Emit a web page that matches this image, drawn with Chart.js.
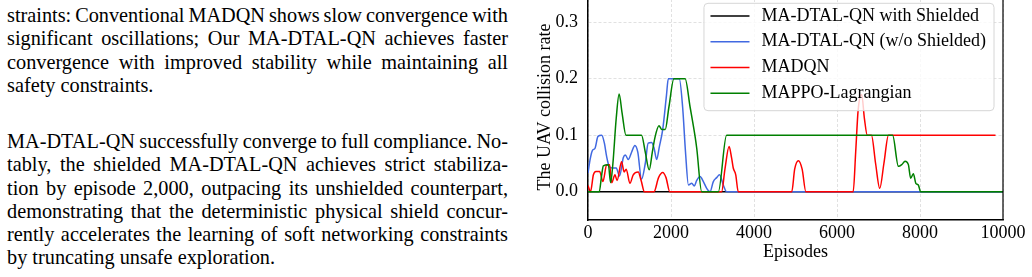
<!DOCTYPE html>
<html>
<head>
<meta charset="utf-8">
<script src="https://cdn.jsdelivr.net/npm/chart.js@4.4.0/dist/chart.umd.min.js"></script>
<style>
html, body { margin: 0; padding: 0; background: #fff; overflow: hidden; }
body { width: 1032px; height: 277px; position: relative; }
.para { position: absolute; left: 7px; width: 501px; font-family: "Liberation Serif", serif; font-size: 20.3px; line-height: 23.3px; color: #000; }
.para div { text-align: justify; text-align-last: justify; white-space: nowrap; }
.para div.last { text-align-last: left; }
#wrap { position: absolute; left: 520px; top: -6px; width: 512px; height: 283px; }
</style>
</head>
<body>
<div class="para" style="top:4px">
  <div>straints: Conventional MADQN shows slow convergence with</div>
  <div>significant oscillations; Our MA-DTAL-QN achieves faster</div>
  <div>convergence with improved stability while maintaining all</div>
  <div class="last">safety constraints.</div>
</div>
<div class="para" style="top:130px">
  <div>MA-DTAL-QN successfully converge to full compliance. No-</div>
  <div>tably, the shielded MA-DTAL-QN achieves strict stabiliza-</div>
  <div>tion by episode 2,000, outpacing its unshielded counterpart,</div>
  <div>demonstrating that the deterministic physical shield concur-</div>
  <div>rently accelerates the learning of soft networking constraints</div>
  <div class="last">by truncating unsafe exploration.</div>
</div>
<div id="wrap"><canvas id="myChart" width="512" height="283"></canvas></div>
<script>
// tick labels
const xTicks = [0, 2000, 4000, 6000, 8000, 10000];
const yTicks = [0.0, 0.1, 0.2, 0.3];

// series names
const seriesNames = ["MA-DTAL-QN with Shielded", "MA-DTAL-QN (w/o Shielded)", "MADQN", "MAPPO-Lagrangian"];

// MA-DTAL-QN with Shielded
const shieldedEp = [0, 10000];
const shieldedRate = [0, 0];

// MA-DTAL-QN (w/o Shielded)
const noShieldEp = [0, 50, 105, 170, 240, 330, 395, 450, 510, 580, 680, 760, 850, 900, 970, 1050, 1130, 1200, 1290, 1380, 1450, 1530, 1590, 1655, 1720, 1800, 1890, 1935, 2200, 2280, 2350, 2420, 2500, 2560, 2620, 2700, 2780, 2860, 2940, 3020, 3100, 3170, 3260, 3340, 10000];
const noShieldRate = [0.033, 0.057, 0.073, 0.077, 0.098, 0.1, 0.086, 0.062, 0.045, 0.042, 0.042, 0.028, 0.06, 0.065, 0.057, 0.07, 0.082, 0.07, 0.022, 0.05, 0.086, 0.087, 0.078, 0.057, 0.08, 0.11, 0.17, 0.2, 0.2, 0.15, 0.07, 0.012, 0.015, 0.01, 0.02, 0.027, 0.018, 0.006, 0, 0.018, 0.025, 0.03, 0.012, 0, 0];

// MADQN
const madqnEp = [0, 60, 130, 190, 280, 360, 450, 520, 570, 650, 700, 810, 870, 920, 1010, 1090, 1210, 1280, 1360, 1590, 1700, 1800, 1880, 1970, 3220, 3300, 3400, 3460, 3500, 3560, 3620, 4910, 4980, 5070, 5160, 5250, 6390, 6450, 6510, 6595, 6660, 6730, 6830, 6930, 7030, 7130, 7240, 7350, 9820];
const madqnRate = [0.011, 0, 0.03, 0.036, 0.036, 0.018, 0.048, 0.048, 0.016, 0.03, 0.02, 0.053, 0.035, 0.04, 0.015, 0.03, 0.035, 0.02, 0, 0, 0.025, 0.034, 0.025, 0, 0, 0.04, 0.08, 0.06, 0.042, 0.03, 0, 0, 0.04, 0.055, 0.04, 0, 0, 0.07, 0.145, 0.172, 0.13, 0.1, 0.1, 0.05, 0.006, 0.05, 0.1, 0.1, 0.1];

// MAPPO-Lagrangian
const mappoEp = [0, 270, 330, 370, 490, 545, 600, 680, 750, 820, 915, 1290, 1380, 1475, 1550, 1610, 1710, 1780, 1860, 1950, 2070, 2340, 2460, 2580, 2620, 2740, 3140, 3340, 7340, 7480, 7560, 7640, 7720, 7775, 7840, 7900, 7960, 8015, 10000];
const mappoRate = [0, 0, 0.03, 0.046, 0.048, 0.016, 0.05, 0.13, 0.173, 0.14, 0.1, 0.1, 0.07, 0.039, 0.07, 0.095, 0.117, 0.11, 0.11, 0.15, 0.2, 0.2, 0.15, 0.098, 0.077, 0, 0, 0.1, 0.1, 0.045, 0.048, 0.054, 0.048, 0.024, 0.032, 0.015, 0.012, 0, 0];

const seriesColors = ["#000000", "#4169e1", "#ff0000", "#008000"];

// squeeze word spacing on lines that are too long for the column
document.querySelectorAll(".para div").forEach(function (el) {
    var s = document.createElement("span");
    s.textContent = el.textContent;
    el.textContent = "";
    el.appendChild(s);
    var over = s.getBoundingClientRect().width - 501;
    var gaps = s.textContent.split(" ").length - 1;
    if (over > 0 && gaps > 0) el.style.wordSpacing = (-over / gaps) + "px";
});

function pts(xs, ys) {
    return xs.map((x, i) => ({ x: x, y: ys[i] }));
}

const serif = "'Liberation Serif', serif";

const boxLegend = {
    id: "boxLegend",
    afterDatasetsDraw(chart) {
        const ctx = chart.ctx, a = chart.chartArea;
        ctx.save();
        // right spine
        ctx.strokeStyle = "#000";
        ctx.lineWidth = 1.2;
        ctx.beginPath();
        ctx.moveTo(a.right, a.top);
        ctx.lineTo(a.right, a.bottom);
        ctx.stroke();
        // legend frame
        ctx.font = "18px " + serif;
        var maxW = 0;
        chart.data.datasets.forEach(function (d) { maxW = Math.max(maxW, ctx.measureText(d.label).width); });
        var w = 6.5 + 39 + 12 + maxW + 8, h = 107.4;
        var bx = a.right - 9 - w, by = a.top + 9.3;
        ctx.beginPath();
        ctx.roundRect(bx, by, w, h, 4);
        ctx.fillStyle = "rgba(255,255,255,0.8)";
        ctx.fill();
        ctx.strokeStyle = "#d6d6d6";
        ctx.lineWidth = 1;
        ctx.stroke();
        ctx.textBaseline = "middle";
        chart.data.datasets.forEach(function (d, i) {
            var yy = by + 12.7 + i * 25.75;
            ctx.strokeStyle = d.borderColor;
            ctx.lineWidth = 1.5;
            ctx.beginPath();
            ctx.moveTo(bx + 6.5, yy);
            ctx.lineTo(bx + 45.5, yy);
            ctx.stroke();
            ctx.fillStyle = "#000";
            ctx.fillText(d.label, bx + 57.5, yy);
        });
        ctx.restore();
    }
};

const data = {
    datasets: [
        { label: seriesNames[0], data: pts(shieldedEp, shieldedRate), borderColor: seriesColors[0], order: 4 },
        { label: seriesNames[1], data: pts(noShieldEp, noShieldRate), borderColor: seriesColors[1], order: 3 },
        { label: seriesNames[2], data: pts(madqnEp, madqnRate), borderColor: seriesColors[2], order: 2 },
        { label: seriesNames[3], data: pts(mappoEp, mappoRate), borderColor: seriesColors[3], order: 1 }
    ].map(function (d) {
        d.borderWidth = 1.5;
        d.pointRadius = 0;
        d.fill = false;
        d.cubicInterpolationMode = "monotone";
        return d;
    })
};

const gridOpts = { color: "rgba(170,170,170,0.45)", lineWidth: 0.8, drawTicks: false };

const config = {
    type: "line",
    data: data,
    options: {
        responsive: false,
        animation: false,
        layout: { padding: { left: 0, right: 29, top: 0, bottom: 0 } },
        plugins: { legend: { display: false }, tooltip: { enabled: false } },
        scales: {
            x: {
                type: "linear",
                min: 0,
                max: 10000,
                afterBuildTicks: function (s) { s.ticks = xTicks.map(function (v) { return { value: v }; }); },
                afterFit: function (s) { s.height = 57; s.paddingLeft = 0; s.paddingRight = 0; },
                ticks: { autoSkip: false, maxRotation: 0, padding: 2, color: "#000", font: { family: serif, size: 18 }, callback: function (v) { return String(v); } },
                grid: gridOpts,
                border: { color: "#000", width: 1.5, dash: [3, 2] },
                title: { display: true, text: "Episodes", color: "#000", font: { family: serif, size: 18 }, padding: { top: 0, bottom: 14 } }
            },
            y: {
                min: -0.05,
                max: 0.35,
                afterBuildTicks: function (s) { s.ticks = yTicks.map(function (v) { return { value: v }; }); },
                afterFit: function (s) { s.width = 68; s.paddingTop = 0; s.paddingBottom = 0; },
                ticks: { padding: 10, color: "#000", font: { family: serif, size: 18 }, callback: function (v) { return v.toFixed(1); } },
                grid: gridOpts,
                border: { color: "#000", width: 1.5, dash: [3, 2] },
                title: { display: true, text: "The UAV collision rate", color: "#000", font: { family: serif, size: 18 }, padding: { top: 14, bottom: 0 } }
            }
        }
    },
    plugins: [boxLegend]
};

const chart = new Chart(document.getElementById("myChart").getContext("2d"), config);
</script>
</body>
</html>
